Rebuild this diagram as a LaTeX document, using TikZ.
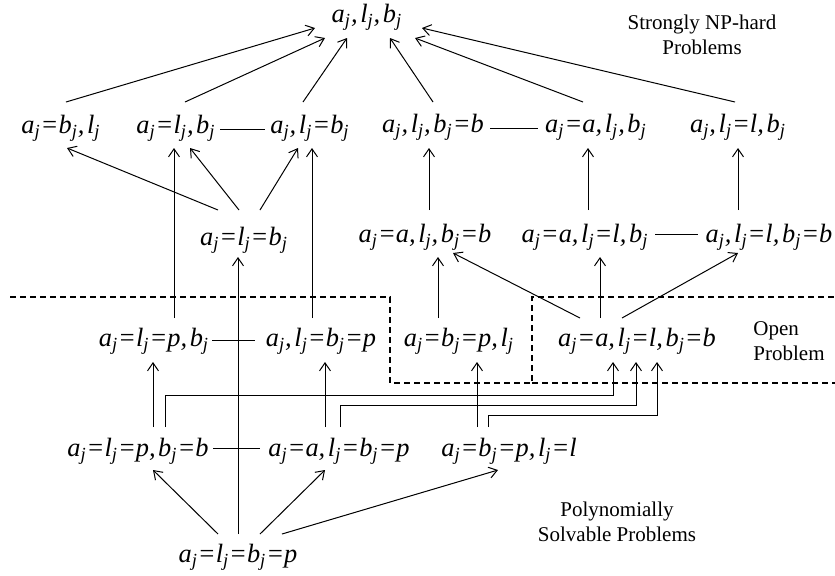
\documentclass[tikz,border=0pt]{standalone}
\usepackage{fontspec}
\setmainfont{Liberation Serif}
\usetikzlibrary{arrows.meta,calc}
\newcommand{\sj}{\textsubscript{j}}
\newcommand{\cma}{,\hspace{0.1em}}
\begin{document}
\begin{tikzpicture}[x=0.5pt,y=-0.5pt,
  mt/.style={font=\fontsize{13.2}{15}\selectfont\itshape, inner sep=0pt, text height=9pt, text depth=3.3pt, anchor=center},
  lbl/.style={font=\fontsize{10.5}{12.5}\selectfont, inner sep=0pt, align=center},
  arr/.style={-{Straight Barb[length=4pt,width=5.5pt]}, line width=0.5pt},
  ln/.style={line width=0.5pt},
  dsh/.style={line width=0.7pt, dash pattern=on 3pt off 2pt}]
\useasboundingbox (0,0) rectangle (835,575);
% nodes
\node[mt] (T) at (367,17) {a\sj\cma l\sj\cma b\sj};
\node[mt] (r2a) at (61,128) {a\sj=b\sj\cma l\sj};
\node[mt] (r2b) at (176,128) {a\sj=l\sj\cma b\sj};
\node[mt] (r2c) at (310,128) {a\sj\cma l\sj=b\sj};
\node[mt] (r2d) at (433,127) {a\sj\cma l\sj\cma b\sj=b};
\node[mt] (r2e) at (596,127) {a\sj=a\cma l\sj\cma b\sj};
\node[mt] (r2f) at (738,127) {a\sj\cma l\sj=l\cma b\sj};
\node[mt] (r3a) at (244,240) {a\sj=l\sj=b\sj};
\node[mt] (r3b) at (425,237) {a\sj=a\cma l\sj\cma b\sj=b};
\node[mt] (r3c) at (585,237) {a\sj=a\cma l\sj=l\cma b\sj};
\node[mt] (r3d) at (769,237) {a\sj\cma l\sj=l\cma b\sj=b};
\node[mt] (r4a) at (154,341) {a\sj=l\sj=p\cma b\sj};
\node[mt] (r4b) at (321,341) {a\sj\cma l\sj=b\sj=p};
\node[mt] (r4c) at (459,341) {a\sj=b\sj=p\cma l\sj};
\node[mt] (r4d) at (637,341) {a\sj=a\cma l\sj=l\cma b\sj=b};
\node[mt] (r5a) at (138,451) {a\sj=l\sj=p\cma b\sj=b};
\node[mt] (r5b) at (339,451) {a\sj=a\cma l\sj=b\sj=p};
\node[mt] (r5c) at (509,451) {a\sj=b\sj=p\cma l\sj=l};
\node[mt] (r6) at (238,557) {a\sj=l\sj=b\sj=p};
% labels
\node[lbl] (hard) at (702,35) {Strongly NP-hard\\Problems};
\node[lbl, align=left] (open) at (789,341) {Open\\Problem};
\node[lbl] (poly) at (617,522) {Polynomially\\Solvable Problems};
% dashed boundaries
\draw[dsh] (10,297) -- (390,297) -- (390,383) -- (532,383) -- (532,297) -- (835,297);
\draw[dsh] (532,383) -- (835,383);
% top arrows
\draw[arr] ($(r2a)+(5,-26)$) -- ($(T)+(-52,11)$);
\draw[arr] ($(r2b)+(9,-26)$) -- ($(T)+(-42,21)$);
\draw[arr] ($(r2c)+(-7,-26)$) -- ($(T)+(-20,21)$);
\draw[arr] ($(r2d)+(0,-25)$) -- ($(T)+(23,21)$);
\draw[arr] ($(r2e)+(-13,-25)$) -- ($(T)+(48,21)$);
\draw[arr] ($(r2f)+(-3,-25)$) -- ($(T)+(55,11)$);
% row 2 equivalences
\draw[ln] ($(r2b)+(44,1)$) -- ($(r2c)+(-45,1)$);
\draw[ln] ($(r2d)+(57,1)$) -- ($(r2e)+(-58,1)$);
% row 3 -> row 2
\draw[arr] ($(r3a)+(-26,-30)$) -- ($(r2a)+(6,20)$);
\draw[arr] ($(r3a)+(-5,-30)$) -- ($(r2b)+(14,20)$);
\draw[arr] ($(r3a)+(16,-30)$) -- ($(r2c)+(-12,20)$);
\draw[arr] ($(r3b)+(4,-27)$) -- ($(r2d)+(-4,21)$);
\draw[arr] ($(r3c)+(3,-27)$) -- ($(r2e)+(-8,21)$);
\draw[arr] ($(r3d)+(-31,-27)$) -- ($(r2f)+(0,21)$);
\draw[ln] ($(r3c)+(70,-3)$) -- ($(r3d)+(-71,-3)$);
% row 4 -> row 2/3
\draw[arr] ($(r4a)+(20,-23)$) -- ($(r2b)+(-2,20)$);
\draw[arr] ($(r4b)+(-9,-23)$) -- ($(r2c)+(2,20)$);
\draw[arr] ($(r4c)+(-21,-23)$) -- ($(r3b)+(13,20)$);
\draw[arr] ($(r4d)+(-57,-23)$) -- ($(r3b)+(28,16)$);
\draw[arr] ($(r4d)+(-37,-23)$) -- ($(r3c)+(15,20)$);
\draw[arr] ($(r4d)+(-15,-23)$) -- ($(r3d)+(-31,16)$);
\draw[ln] ($(r4a)+(58,-1)$) -- ($(r4b)+(-66,-1)$);
% row 5 -> row 4
\draw[arr] ($(r5a)+(15,-24)$) -- ($(r4a)+(-1,21)$);
\draw[arr] ($(r5b)+(-14,-24)$) -- ($(r4b)+(4,21)$);
\draw[arr] ($(r5c)+(-32,-24)$) -- ($(r4c)+(18,21)$);
\draw[arr] ($(r5a)+(27,-24)$) -- ++(0,-32) -| ($(r4d)+(-24,21)$);
\draw[arr] ($(r5b)+(1,-24)$) -- ++(0,-22) -| ($(r4d)+(-1,21)$);
\draw[arr] ($(r5c)+(-21,-24)$) -- ++(0,-12) -| ($(r4d)+(20,21)$);
\draw[ln] ($(r5a)+(75,-3)$) -- ($(r5b)+(-79,-3)$);
% row 6 -> others
\draw[arr] ($(r6)+(-20,-23)$) -- ($(r5a)+(15,19)$);
\draw[arr] ($(r6)+(22,-23)$) -- ($(r5b)+(-14,19)$);
\draw[arr] ($(r6)+(44,-23)$) -- ($(r5c)+(-11,19)$);
\draw[arr] ($(r6)+(0,-23)$) -- ($(r3a)+(-6,17)$);
\end{tikzpicture}
\end{document}
